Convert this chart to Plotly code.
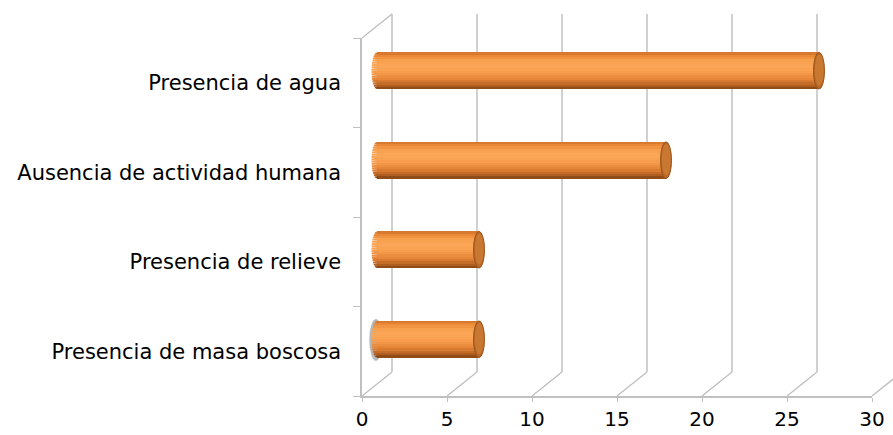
import math
import plotly.graph_objects as go

# ---------------- data ----------------
categories = ["Presencia de masa boscosa", "Presencia de relieve",
              "Ausencia de actividad humana", "Presencia de agua"]
values = [6, 6, 17, 26]
x_ticks = [0, 5, 10, 15, 20, 25, 30]

# ---------------- style / geometry ----------------
W, H = 893, 435
ML, MR, MT, MB = 362, 21, 38, 39
PW, PH = W - ML - MR, H - MT - MB          # plot area in px
XMAX = 30
PXU = PW / XMAX                            # px per x unit
DX, DY = 30, 24                            # depth offset of back wall (px)
NCAT = len(categories)
CAT_PX = PH / NCAT
BAR_W = 0.41                               # bar thickness (category units)
CAP_HALF = 5.5 / PXU                       # half width of cylinder ends (x units)
GRID = "#c0c0c0"
FONT = "DejaVu Sans"

# vertical shading of the cylinder, bottom -> top (fraction, rgb)
STOPS = [(0.00, (128, 66, 18)), (0.10, (178, 96, 32)), (0.25, (226, 130, 52)),
         (0.45, (246, 156, 76)), (0.62, (251, 168, 88)), (0.78, (247, 160, 78)),
         (0.90, (236, 140, 58)), (1.00, (205, 112, 40))]
NSTRIP = 16


def shade(f):
    for (f0, c0), (f1, c1) in zip(STOPS[:-1], STOPS[1:]):
        if f <= f1:
            t = (f - f0) / (f1 - f0) if f1 > f0 else 0
            c = [round(a + (b - a) * t) for a, b in zip(c0, c1)]
            return "rgb(%d,%d,%d)" % tuple(c)
    return "rgb(%d,%d,%d)" % STOPS[-1][1]


ypos = list(range(NCAT))

fig = go.Figure()

# invisible trace so the front (labelled) axes exist
fig.add_trace(go.Scatter(x=values, y=ypos, mode="markers",
                         marker=dict(size=1, opacity=0), showlegend=False,
                         hoverinfo="skip"))

shapes = []
sw = BAR_W / NSTRIP
b = BAR_W / 2


def xe(yv):
    return -CAP_HALF * math.sqrt(max(0.0, 1 - (yv / b) ** 2))


for i in range(NSTRIP):
    f = (i + 0.5) / NSTRIP
    col = shade(f)
    off = -BAR_W / 2 + i * sw
    fig.add_trace(go.Bar(
        y=ypos, x=values, orientation="h",
        width=sw * 1.08, offset=off,
        marker=dict(color=col, line=dict(width=0)),
        xaxis="x2", yaxis="y2", showlegend=False, hoverinfo="skip",
    ))
    # rounded left end slice (half ellipse)
    ya, yb = off, min(off + sw * 1.08, b)
    for yp in ypos:
        pts = [(0.02, ya), (xe(ya), ya)]
        for k in range(1, 4):
            yy = ya + (yb - ya) * k / 4
            pts.append((xe(yy), yy))
        pts.append((0.02, yb))
        path = "M " + " L ".join("%.5f,%.5f" % (px, yp + py) for px, py in pts) + " Z"
        shapes.append(dict(type="path", path=path, xref="x2", yref="y2", layer="above",
                           fillcolor=col, line=dict(width=0)))

# soft shadow behind the bottom bar's left end (as in the original)
for k, op in enumerate([0.10, 0.14, 0.18]):
    grow = 1.0 - 0.12 * k
    shapes.insert(0, dict(type="circle", xref="x2", yref="y2", layer="below",
                          x0=-CAP_HALF * (1.0 + 0.45 * grow), x1=CAP_HALF,
                          y0=ypos[0] - BAR_W * (0.5 + 0.1 * grow),
                          y1=ypos[0] + BAR_W * (0.5 + 0.06 * grow),
                          fillcolor="rgba(60,60,60,%.2f)" % op, line=dict(width=0)))

# right end faces
for yp, v in zip(ypos, values):
    shapes.append(dict(type="circle", xref="x2", yref="y2", layer="above",
                       x0=v - CAP_HALF, x1=v + CAP_HALF,
                       y0=yp - BAR_W / 2, y1=yp + BAR_W / 2,
                       fillcolor="#b8672a", line=dict(color="#9c551c", width=1)))
    shapes.append(dict(type="circle", xref="x2", yref="y2", layer="above",
                       x0=v - CAP_HALF * 0.75, x1=v + CAP_HALF * 0.85,
                       y0=yp - BAR_W * 0.4, y1=yp + BAR_W * 0.44,
                       fillcolor="#c97832", line=dict(width=0)))

# 3-D frame: back wall gridlines, floor diagonals, left wall top edge
ddx = DX / PW
ddy = DY / PH
for t in x_ticks:
    px = t / XMAX
    shapes.insert(0, dict(type="line", xref="paper", yref="paper",
                          x0=px + ddx, x1=px + ddx, y0=ddy, y1=1 + ddy,
                          line=dict(color=GRID, width=1.5), layer="below"))
    shapes.insert(0, dict(type="line", xref="paper", yref="paper",
                          x0=px, x1=px + ddx, y0=0, y1=ddy,
                          line=dict(color=GRID, width=1.5), layer="below"))
shapes.insert(0, dict(type="line", xref="paper", yref="paper",
                      x0=0, x1=ddx, y0=1, y1=1 + ddy,
                      line=dict(color=GRID, width=1.5), layer="below"))

fig.update_layout(
    width=W, height=H, autosize=False,
    margin=dict(l=ML, r=MR, t=MT, b=MB, pad=0),
    paper_bgcolor="white", plot_bgcolor="rgba(0,0,0,0)",
    barmode="overlay", bargap=0,
    font=dict(family=FONT, size=21, color="#000000"),
    shapes=shapes,
    xaxis=dict(range=[0, XMAX], tickvals=x_ticks, ticktext=[str(t) for t in x_ticks],
               showgrid=False, zeroline=False, showline=True, linecolor=GRID, linewidth=1.5,
               ticks="outside", ticklen=4, tickcolor=GRID, tickwidth=1,
               tickfont=dict(size=20, family=FONT), automargin=False),
    yaxis=dict(range=[-0.5, NCAT - 0.5], tickvals=ypos, ticktext=categories,
               showgrid=False, zeroline=False, showline=True, linecolor=GRID, linewidth=1.5,
               ticks="", ticklabelstandoff=15, automargin=False,
               minor=dict(tickvals=[i + 0.5 for i in range(-1, NCAT)], ticks="outside",
                          ticklen=7, tickcolor=GRID, tickwidth=1),
               tickfont=dict(size=21, family=FONT)),
    xaxis2=dict(overlaying="x", range=[-DX / 2 / PXU, XMAX - DX / 2 / PXU], visible=False),
    yaxis2=dict(overlaying="y", range=[-0.5 - DY / 2 / CAT_PX, NCAT - 0.5 - DY / 2 / CAT_PX],
                visible=False),
)

fig.write_html("out.html", config={"displayModeBar": False},
               post_script="document.body.style.margin='0';document.body.style.padding='0';")
